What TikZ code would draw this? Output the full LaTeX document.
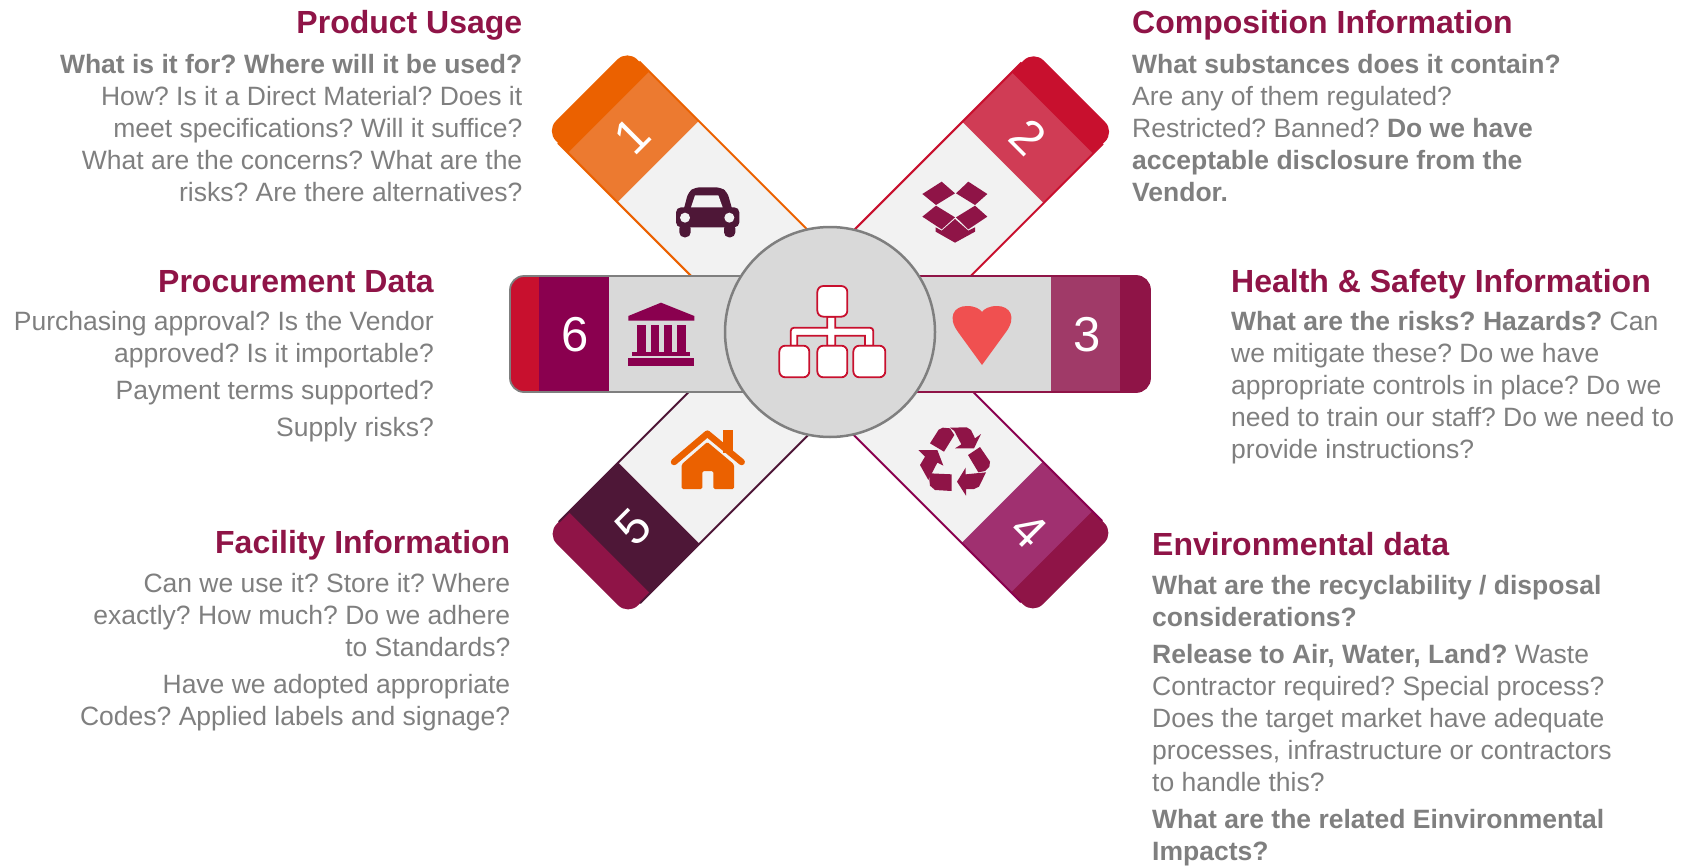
\documentclass[tikz,border=0pt]{standalone}
\usepackage{fontspec}
\setmainfont{Liberation Sans}
\frenchspacing
\definecolor{txtgray}{HTML}{7F7F7F}
\definecolor{titlecol}{HTML}{8F1447}
\definecolor{orangeA}{HTML}{EB6100}
\definecolor{orangeB}{HTML}{EC7A30}
\definecolor{redA}{HTML}{C8102E}
\definecolor{redB}{HTML}{D03C55}
\definecolor{wineA}{HTML}{8F1447}
\definecolor{wineB}{HTML}{A03070}
\definecolor{wineC}{HTML}{8A004F}
\definecolor{wineD}{HTML}{A03A68}
\definecolor{plum}{HTML}{4E1737}
\definecolor{palegray}{HTML}{F2F2F2}
\definecolor{midgray}{HTML}{D9D9D9}
\definecolor{heartcol}{HTML}{F05050}
\tikzset{
  titletext/.style={inner sep=0pt,text=titlecol,font=\fontsize{32}{36}\selectfont\bfseries},
  bodytext/.style={inner sep=0pt,text=txtgray,font=\fontsize{26.5}{32}\selectfont},
  digit/.style={inner sep=0pt,text=white,font=\fontsize{49}{52}\selectfont},
}
\newcommand{\armshape}[5]{%
  \begin{scope}[shift={#5},rotate=#1]
    \fill[#2,rounded corners=14pt] (0,-57.5)--(343,-57.5)--(343,57.5)--(0,57.5)--cycle;
    \fill[#3] (242,-57.5) rectangle (312,57.5);
    \fill[palegray] (0,-57.5) rectangle (242,57.5);
    \draw[#4,line width=2pt] (0,-57.5)--(326,-57.5) (0,57.5)--(326,57.5);
  \end{scope}}
\begin{document}
\begin{tikzpicture}[x=1pt,y=-1pt]
\useasboundingbox (0,0) rectangle (1688,867);
% arms
\armshape{135}{orangeA}{orangeB}{orangeA}{(829.2,332.8)}
\armshape{45}{redA}{redB}{redA}{(831.7,333.7)}
\armshape{-45}{wineA}{wineB}{wineC}{(831,331)}
\armshape{-135}{wineA}{plum}{plum}{(830,332)}
% horizontal bars
\fill[redA,rounded corners=14pt] (510,276) rectangle (830,392);
\fill[wineC] (539,276) rectangle (609,392);
\fill[midgray] (609,276) rectangle (830,392);
\draw[txtgray,line width=1.8pt,rounded corners=14pt] (830,276)--(510,276)--(510,392)--(830,392);
\fill[wineA,rounded corners=14pt] (830,276) rectangle (1150,392);
\fill[wineD] (1051,276) rectangle (1120,392);
\fill[midgray] (830,276) rectangle (1051,392);
\draw[wineA,line width=1.8pt,rounded corners=14pt] (830,276)--(1150,276)--(1150,392)--(830,392);
% car
\begin{scope}[shift={(650,170)},scale=1/3]
  \fill[plum,rounded corners=5pt] (98,130)--(115,66)--(135,52)--(212,52)--(232,66)--(250,130)--cycle;
  \fill[plum,rounded corners=5pt] (78,112) rectangle (268,172);
  \fill[plum,rounded corners=5pt] (88,160) rectangle (122,202);
  \fill[plum,rounded corners=5pt] (222,160) rectangle (256,202);
  \fill[palegray] (135,76)--(205,76)--(218,112)--(123,112)--cycle;
  \fill[palegray] (105,143) circle[radius=15];
  \fill[palegray] (238,143) circle[radius=15];
\end{scope}
% open box
\begin{scope}[shift={(900,170)},scale=1/3,fill=wineA]
  \fill (125,35)--(165,70)--(108,105)--(67,72)--cycle;
  \fill (205,35)--(262,72)--(225,105)--(168,70)--cycle;
  \fill (108,107)--(165,142)--(125,178)--(67,140)--cycle;
  \fill (225,107)--(262,140)--(205,178)--(168,142)--cycle;
  \fill (165,147)--(205,182)--(225,172)--(225,185)--(165,218)--(107,185)--(107,172)--(125,182)--cycle;
\end{scope}
% house
\begin{scope}[shift={(650,415)},scale=1/3]
  \fill[orangeA] (218,45) rectangle (250,115);
  \draw[orangeA,line width=6.5pt,line cap=round,line join=round] (72,141)--(172,56)--(275,141);
  \fill[orangeA,rounded corners=1.5pt] (172,81)--(252,148)--(252,222)--(190,222)--(190,168)--(157,168)--(157,222)--(95,222)--(95,148)--cycle;
\end{scope}
% recycling
\begin{scope}[shift={(900,415)},scale=1/3,fill=wineA]
  \fill (128,38)--(150,40)--(163,60)--(132,110)--(90,85)--(116,44)--cycle;
  \fill (150,38)--(200,37)--(213,45)--(225,70)--(243,57)--(222,100)--(165,100)--(184,88)--(163,48)--cycle;
  \fill (240,96)--(270,140)--(268,155)--(255,168)--(235,172)--(204,120)--cycle;
  \fill (258,172)--(237,215)--(222,222)--(198,222)--(198,242)--(171,200)--(197,158)--(197,178)--cycle;
  \fill (90,175)--(155,178)--(155,228)--(105,225)--(90,212)--(88,195)--cycle;
  \fill (55,105)--(112,105)--(130,152)--(112,143)--(85,195)--(60,150)--(75,125)--cycle;
\end{scope}
% bank
\begin{scope}[shift={(615,290)},scale=1/3,fill=wineC]
  \fill (138,38)--(238,78)--(238,92)--(40,92)--(40,78)--cycle;
  \fill (66,105) rectangle (92,185);
  \fill (107,105) rectangle (132,185);
  \fill (146,105) rectangle (170,185);
  \fill (186,105) rectangle (212,185);
  \fill (52,185) rectangle (226,198);
  \fill (40,205) rectangle (238,227);
\end{scope}
% heart
\fill[heartcol] (982,365)--(958,332) .. controls (947,317) and (954,306) .. (967,306) .. controls (975,306) and (980,309) .. (982,312) .. controls (984,309) and (989,306) .. (997,306) .. controls (1010,306) and (1017,317) .. (1006,332)--cycle;
% centre disc
\node[circle,fill=midgray,draw=txtgray,line width=2.5pt,minimum size=210pt,inner sep=0pt] (hub) at (830,332) {};
% tree icon
\begin{scope}[shift={(720,220)},scale=1/3,draw=redA,line width=1.8pt,fill=white]
  \filldraw (322,290)--(322,323)--(235,323) .. controls (212,323) .. (212,346)--(212,377)--(232,377)--(232,347)--(322,347)--(322,377)--(346,377)--(346,347)--(435,347)--(435,377)--(460,377)--(460,346) .. controls (460,323) .. (437,323)--(346,323)--(346,290)--cycle;
  \filldraw[rounded corners=6pt] (292,198) rectangle (382,290);
  \filldraw[rounded corners=6pt] (178,377) rectangle (268,472);
  \filldraw[rounded corners=6pt] (292,377) rectangle (382,472);
  \filldraw[rounded corners=6pt] (400,377) rectangle (496,472);
\end{scope}
% digits
\node[digit,rotate=45] (d1) at (632.5,136) {1};
\node[digit,rotate=-45] (d2) at (1028,137) {2};
\node[digit] (d3) at (1087,335) {3};
\node[digit,rotate=-45] (d4) at (1029,530) {4};
\node[digit,rotate=45] (d5) at (633,527) {5};
\node[digit] (d6) at (575,335) {6};
% titles
\node[titletext,anchor=base east] (t1) at (522.5,33.5) {Product Usage};
\node[titletext,anchor=base east] (t6) at (434,292) {Procurement Data};
\node[titletext,anchor=base east] (t5) at (510.5,553) {Facility Information};
\node[titletext,anchor=base west] (t2) at (1132,33.5) {Composition Information};
\node[titletext,anchor=base west] (t3) at (1231,292) {Health \& Safety Information};
\node[titletext,anchor=base west] (t4) at (1152,555) {Environmental data};
% bodies
\node[bodytext,anchor=north east,align=right] (b1) at (522.5,54) {\textbf{What is it for? Where will it be used?}\\How? Is it a Direct Material? Does it\\meet specifications? Will it suffice?\\What are the concerns? What are the\\risks? Are there alternatives?};
\node[bodytext,anchor=north east,align=right] (b6) at (434,311) {Purchasing approval? Is the Vendor\\approved? Is it importable?\\[5pt]Payment terms supported?\\[5pt]Supply risks?};
\node[bodytext,anchor=north east,align=right] (b5) at (510.5,573) {Can we use it? Store it? Where\\exactly? How much? Do we adhere\\to Standards?\\[5pt]Have we adopted appropriate\\Codes? Applied labels and signage?};
\node[bodytext,anchor=north west,align=left] (b2) at (1132,54) {\textbf{What substances does it contain?}\\Are any of them regulated?\\Restricted? Banned? \textbf{Do we have}\\\textbf{acceptable disclosure from the}\\\textbf{Vendor.}};
\node[bodytext,anchor=north west,align=left] (b3) at (1231,311) {\textbf{What are the risks? Hazards?} Can\\we mitigate these? Do we have\\appropriate controls in place? Do we\\need to train our staff? Do we need to\\provide instructions?};
\node[bodytext,anchor=north west,align=left] (b4) at (1152,575) {\textbf{What are the recyclability / disposal}\\\textbf{considerations?}\\[5pt]\textbf{Release to Air, Water, Land?} Waste\\Contractor required? Special process?\\Does the target market have adequate\\processes, infrastructure or contractors\\to handle this?\\[5pt]\textbf{What are the related Einvironmental}\\\textbf{Impacts?}};
\end{tikzpicture}
\end{document}
